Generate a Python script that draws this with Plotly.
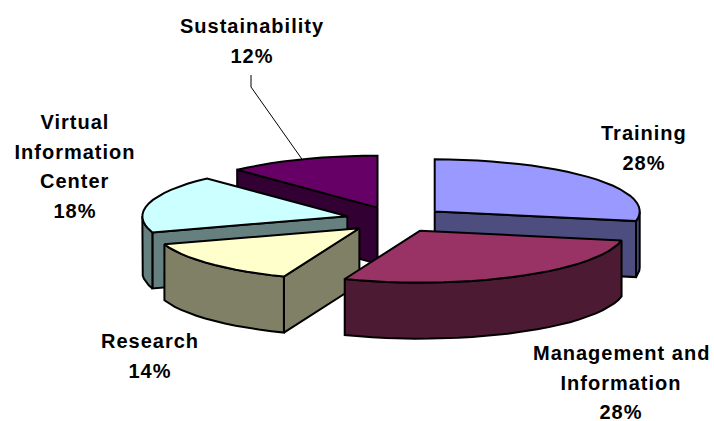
import math
import plotly.graph_objects as go

categories = ["Training", "Management and Information", "Research", "Virtual Information Center", "Sustainability"]
values = [28, 28, 14, 18, 12]
label_lines = [["Training"], ["Management and", "Information"], ["Research"], ["Virtual", "Information", "Center"], ["Sustainability"]]

top_colors = ["#9999FF", "#993366", "#FFFFCC", "#CCFFFF", "#660066"]
side_colors = ["#4D4D80", "#4D1A33", "#808066", "#668080", "#330033"]
draw_order = [4, 3, 0, 2, 1]
label_anchor = [(644, 133), (621, 353), (150, 341), (75, 122), (252, 26)]
LINE_GAP = 29.5

CX, CY, RX, RY, DEPTH, EXPLODE = 396, 219.5, 205, 52, 56, 0.245
STEP = 4.0

def unit(a):
    r = math.radians(a)
    return math.sin(r), math.cos(r)

total = sum(values)
spans = []
acc = 0
for v in values:
    spans.append((acc / total * 360, (acc + v) / total * 360))
    acc += v

def apex(i):
    a0, a1 = spans[i]
    s, c = unit((a0 + a1) / 2)
    return CX + EXPLODE * RX * s, CY - EXPLODE * RY * c

def rim(ax, ay, a):
    s, c = unit(a)
    return ax + RX * s, ay - RY * c

def arc(ax, ay, a0, a1):
    n = max(1, int(round((a1 - a0) / STEP)))
    return [rim(ax, ay, a0 + (a1 - a0) * k / n) for k in range(n + 1)]

fig = go.Figure()

def poly(pts, color):
    fig.add_trace(go.Scatter(
        x=[p[0] for p in pts] + [pts[0][0]],
        y=[p[1] for p in pts] + [pts[0][1]],
        mode="lines", fill="toself", fillcolor=color,
        line=dict(color="#000000", width=2), hoverinfo="skip", showlegend=False))

for i in draw_order:
    a0, a1 = spans[i]
    ax, ay = apex(i)
    # radial wall on the start edge
    if math.sin(math.radians(a0)) < -1e-6:
        p = rim(ax, ay, a0)
        poly([(ax, ay), p, (p[0], p[1] + DEPTH), (ax, ay + DEPTH)], side_colors[i])
    # radial wall on the end edge
    if math.sin(math.radians(a1)) > 1e-6:
        p = rim(ax, ay, a1)
        poly([(ax, ay), p, (p[0], p[1] + DEPTH), (ax, ay + DEPTH)], side_colors[i])
    # outer rim wall, front-facing part only
    f0, f1 = max(a0, 90), min(a1, 270)
    if f1 > f0:
        up = arc(ax, ay, f0, f1)
        down = [(x, y + DEPTH) for x, y in reversed(up)]
        poly(up + down, side_colors[i])
    # top face
    poly([(ax, ay)] + arc(ax, ay, a0, a1), top_colors[i])

# leader line for Sustainability
sx, sy = rim(*apex(4), sum(spans[4]) / 2)
fig.add_trace(go.Scatter(x=[251, 251, sx], y=[75, 87, sy], mode="lines",
                         line=dict(color="#000000", width=1), hoverinfo="skip", showlegend=False))

for i, lines in enumerate(label_lines):
    x, y = label_anchor[i]
    for k, t in enumerate(lines + [f"{values[i]}%"]):
        fig.add_annotation(x=x, y=y + k * LINE_GAP, text=f"<b>{t}</b>", showarrow=False,
                           xanchor="center", yanchor="middle",
                           font=dict(family="Liberation Sans", size=20, color="#000000"))

fig.update_layout(
    width=714, height=421, margin=dict(l=0, r=0, t=0, b=0),
    paper_bgcolor="#FFFFFF", plot_bgcolor="#FFFFFF", showlegend=False,
    xaxis=dict(range=[0, 714], visible=False, fixedrange=True),
    yaxis=dict(range=[421, 0], visible=False, fixedrange=True),
)
post = """
document.body.style.margin = '0';
document.body.style.overflow = 'hidden';
document.querySelectorAll('.annotation-text').forEach(function (t) { t.style.letterSpacing = '1px'; });
"""
fig.write_html("out.html", config={"displayModeBar": False}, post_script=post)
